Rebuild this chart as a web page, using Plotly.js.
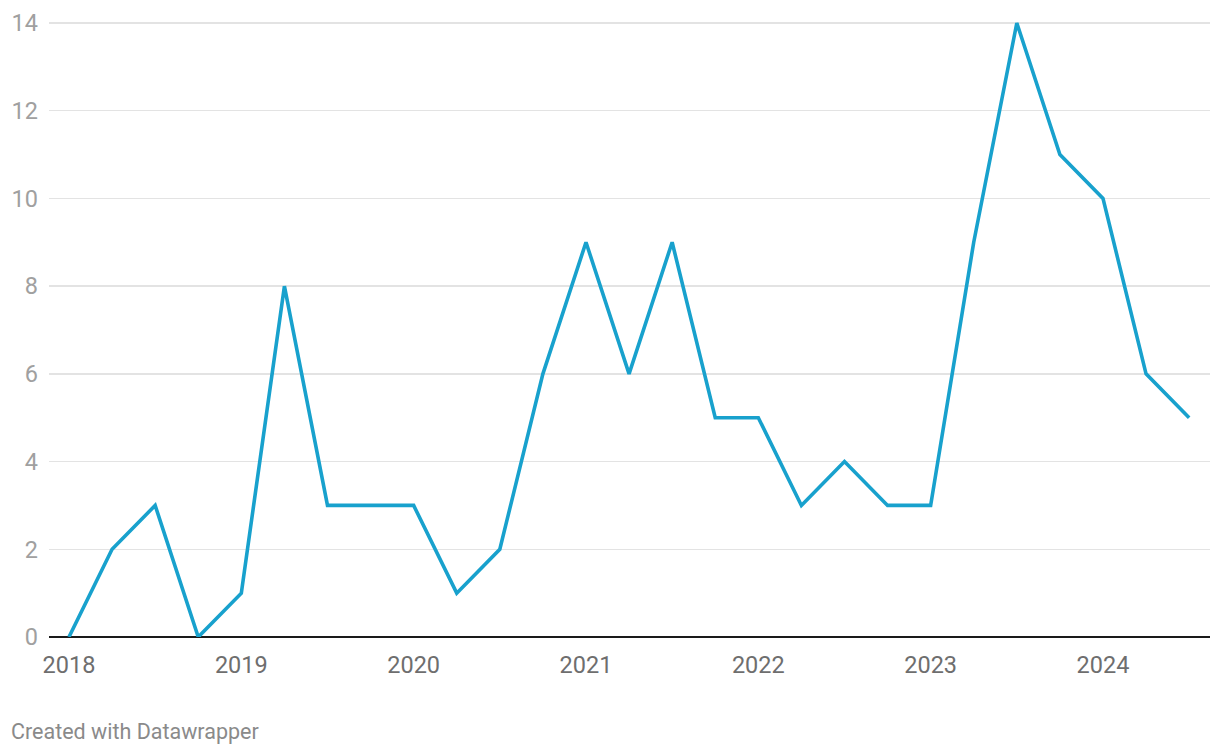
<!DOCTYPE html>
<html>
<head>
<meta charset="utf-8">
<script src="https://cdn.plot.ly/plotly-3.0.1.min.js"></script>
<style>html,body{margin:0;padding:0;background:#fff;}#chart{width:1220px;height:754px;}</style>
</head>
<body>
<div id="chart"></div>
<script>
const quarters = [
  2018.00, 2018.25, 2018.50, 2018.75,
  2019.00, 2019.25, 2019.50, 2019.75,
  2020.00, 2020.25, 2020.50, 2020.75,
  2021.00, 2021.25, 2021.50, 2021.75,
  2022.00, 2022.25, 2022.50, 2022.75,
  2023.00, 2023.25, 2023.50, 2023.75,
  2024.00, 2024.25, 2024.50
];
const values = [
  0, 2, 3, 0,
  1, 8, 3, 3,
  3, 1, 2, 6,
  9, 6, 9, 5,
  5, 3, 4, 3,
  3, 9, 14, 11,
  10, 6, 5
];
const yearTicks = [2018, 2019, 2020, 2021, 2022, 2023, 2024];
const yearLabels = ["2018", "2019", "2020", "2021", "2022", "2023", "2024"];
const yTicks = [0, 2, 4, 6, 8, 10, 12, 14];

const trace = {
  x: quarters, y: values, type: 'scatter', mode: 'lines',
  line: {color: '#18a1cd', width: 3.6, shape: 'linear'},
  hoverinfo: 'skip'
};

const layout = {
  width: 1220, height: 754,
  margin: {l: 49, r: 10, t: 10, b: 117, pad: 0},
  paper_bgcolor: '#ffffff', plot_bgcolor: '#ffffff',
  font: {family: 'Roboto, sans-serif'},
  showlegend: false,
  xaxis: {
    range: [2017.884, 2024.621],
    tickvals: yearTicks, ticktext: yearLabels,
    showgrid: false, zeroline: false, showline: false,
    ticks: '', tickfont: {size: 23.5, color: '#6e6e6e'},
    ticklabelstandoff: 11,
    fixedrange: true
  },
  yaxis: {
    range: [0, 14.296],
    tickvals: yTicks,
    showgrid: true, gridcolor: '#e3e3e3', gridwidth: 1.3,
    zeroline: true, zerolinecolor: '#1a1a1a', zerolinewidth: 2,
    showline: false, ticks: '',
    tickfont: {size: 23.5, color: '#a0a0a0'},
    ticklabelstandoff: 10,
    fixedrange: true
  },
  annotations: [{
    text: 'Created with Datawrapper',
    xref: 'paper', yref: 'paper',
    x: -40/1161, y: -94/627,
    xanchor: 'left', yanchor: 'middle',
    showarrow: false,
    font: {size: 21.5, color: '#8a8a8a', family: 'Roboto, sans-serif'}
  }]
};

Plotly.newPlot('chart', [trace], layout, {displayModeBar: false, staticPlot: true});
</script>
</body>
</html>
